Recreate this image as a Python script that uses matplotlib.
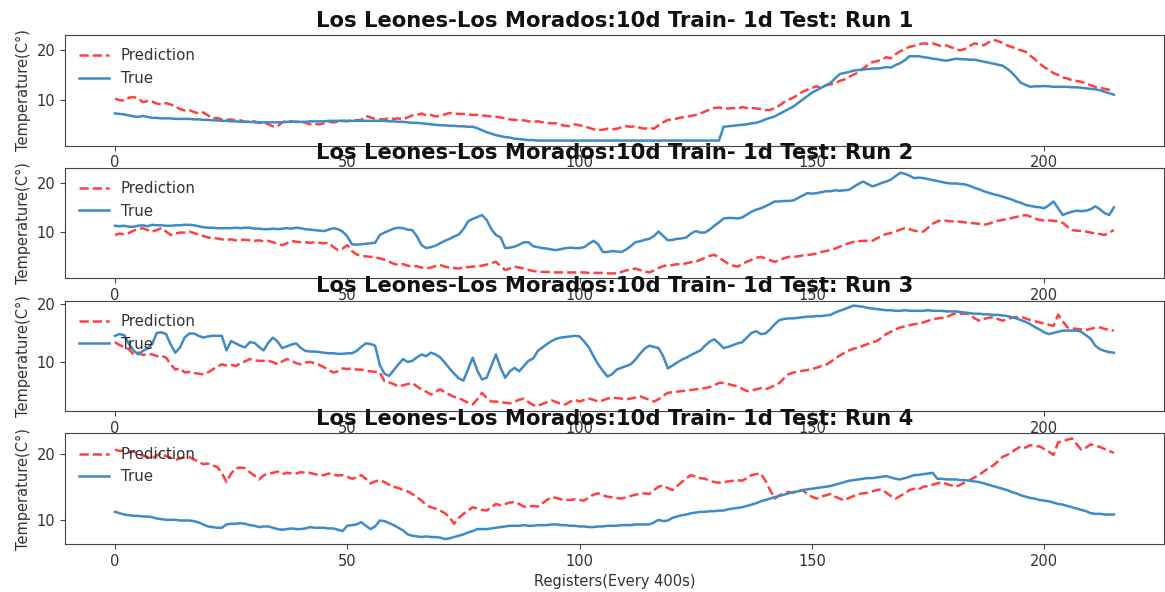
import matplotlib.pyplot as plt
import numpy as np

# Temperature runs, Los Leones - Los Morados (one value per register)
true_run1 = [
    7.2, 7.1, 7.0, 6.8, 6.6, 6.5, 6.7, 6.5, 6.3, 6.3, 6.2, 6.2,
    6.2, 6.1, 6.1, 6.1, 6.1, 6.0, 6.0, 5.9, 5.9, 5.8, 5.8, 5.7,
    5.7, 5.6, 5.6, 5.5, 5.5, 5.5, 5.4, 5.4, 5.4, 5.4, 5.4, 5.4,
    5.4, 5.5, 5.5, 5.5, 5.5, 5.5, 5.6, 5.6, 5.6, 5.6, 5.7, 5.7,
    5.7, 5.7, 5.7, 5.7, 5.7, 5.7, 5.7, 5.7, 5.7, 5.7, 5.7, 5.6,
    5.6, 5.5, 5.5, 5.4, 5.3, 5.3, 5.2, 5.1, 5.0, 4.9, 4.8, 4.8,
    4.7, 4.7, 4.6, 4.6, 4.5, 4.5, 4.2, 3.8, 3.4, 3.1, 2.8, 2.6,
    2.4, 2.3, 2.1, 2.0, 1.9, 1.8, 1.8, 1.7, 1.7, 1.7, 1.7, 1.7,
    1.7, 1.7, 1.7, 1.7, 1.7, 1.7, 1.7, 1.7, 1.7, 1.7, 1.7, 1.7,
    1.7, 1.7, 1.7, 1.7, 1.7, 1.7, 1.7, 1.7, 1.7, 1.7, 1.7, 1.7,
    1.7, 1.7, 1.7, 1.7, 1.7, 1.7, 1.7, 1.7, 1.7, 1.7, 1.7, 4.5,
    4.6, 4.7, 4.8, 4.9, 5.0, 5.2, 5.3, 5.6, 6.0, 6.3, 6.6, 7.1,
    7.6, 8.1, 8.6, 9.3, 10.0, 10.7, 11.4, 11.9, 12.4, 12.9, 13.4, 14.3,
    15.2, 15.4, 15.6, 15.9, 16.0, 16.1, 16.2, 16.3, 16.3, 16.4, 16.6, 16.5,
    17.0, 17.4, 18.0, 18.8, 18.8, 18.8, 18.6, 18.5, 18.3, 18.2, 18.0, 17.9,
    18.1, 18.3, 18.2, 18.2, 18.1, 18.1, 17.9, 17.7, 17.5, 17.3, 17.1, 16.9,
    16.3, 15.5, 14.5, 13.4, 13.0, 12.6, 12.7, 12.7, 12.75, 12.7, 12.6, 12.6,
    12.6, 12.6, 12.5, 12.5, 12.4, 12.3, 12.2, 12.1, 11.9, 11.6, 11.3, 11.0,
]
pred_run1 = [
    10.2, 9.9, 9.8, 10.4, 10.5, 10.3, 9.5, 9.7, 9.6, 9.2, 9.0, 9.3,
    9.0, 8.6, 8.1, 7.8, 7.9, 7.5, 7.2, 7.4, 6.8, 6.2, 6.3, 6.0,
    5.9, 6.0, 5.7, 5.8, 5.5, 5.5, 5.6, 5.3, 5.4, 5.0, 4.6, 4.6,
    5.4, 5.7, 5.6, 5.5, 5.5, 5.3, 5.0, 5.1, 5.0, 5.2, 5.5, 5.4,
    5.5, 5.7, 5.6, 5.9, 5.8, 5.9, 6.7, 6.4, 6.1, 6.0, 6.0, 6.3,
    6.1, 6.2, 6.0, 6.4, 6.8, 6.9, 7.2, 6.8, 6.9, 6.6, 6.7, 7.0,
    7.3, 7.2, 7.1, 7.1, 7.0, 6.9, 6.9, 6.8, 6.7, 6.6, 6.5, 6.4,
    6.2, 6.0, 5.9, 5.8, 5.8, 5.6, 5.5, 5.6, 5.4, 5.3, 5.2, 5.2,
    4.9, 4.7, 4.6, 5.0, 4.8, 4.6, 4.3, 4.0, 3.8, 3.9, 4.1, 4.0,
    4.1, 4.4, 4.6, 4.5, 4.6, 4.3, 4.1, 4.3, 4.1, 4.8, 5.4, 5.9,
    5.9, 6.2, 6.4, 6.6, 6.7, 6.9, 7.2, 7.6, 8.0, 8.3, 8.4, 8.2,
    8.2, 8.3, 8.1, 8.5, 8.3, 8.3, 8.2, 8.1, 7.9, 7.9, 8.3, 8.8,
    9.5, 10.0, 10.4, 11.0, 11.6, 12.0, 12.4, 12.7, 12.3, 12.9, 13.1, 13.3,
    13.8, 14.1, 14.6, 15.1, 15.5, 16.3, 17.0, 17.6, 17.8, 18.1, 18.6, 18.4,
    19.2, 19.8, 20.2, 20.7, 20.9, 21.2, 21.4, 21.3, 21.4, 21.1, 20.8, 21.0,
    20.6, 20.2, 20.0, 20.3, 20.9, 21.4, 21.2, 21.0, 21.6, 22.1, 21.9, 21.5,
    21.0, 20.7, 20.3, 20.0, 19.7, 18.9, 18.2, 17.3, 16.6, 16.0, 15.4, 15.0,
    14.5, 14.3, 13.9, 13.8, 13.6, 13.3, 12.9, 12.6, 12.4, 12.2, 12.0, 11.9,
]

true_run2 = [
    11.2, 11.1, 11.2, 11.0, 11.0, 11.2, 11.3, 11.1, 11.4, 11.3, 11.3, 11.2,
    11.2, 11.3, 11.3, 11.4, 11.4, 11.3, 11.1, 10.9, 10.8, 10.8, 10.7, 10.7,
    10.7, 10.7, 10.8, 10.7, 10.8, 10.8, 10.6, 10.6, 10.5, 10.5, 10.6, 10.5,
    10.6, 10.7, 10.6, 10.8, 10.7, 10.5, 10.4, 10.3, 10.2, 10.1, 10.4, 10.7,
    10.5, 10.0, 9.0, 7.4, 7.3, 7.4, 7.5, 7.6, 7.7, 9.3, 9.8, 10.2,
    10.6, 10.8, 10.7, 10.4, 10.3, 9.0, 7.2, 6.6, 6.8, 7.1, 7.6, 8.1,
    8.5, 9.0, 9.4, 10.5, 12.1, 12.6, 13.0, 13.4, 12.4, 10.5, 9.3, 8.8,
    6.6, 6.7, 6.9, 7.3, 7.8, 7.8, 7.0, 6.8, 6.6, 6.5, 6.3, 6.2,
    6.4, 6.6, 6.7, 6.6, 6.6, 6.8, 7.5, 8.1, 7.4, 5.8, 5.8, 6.0,
    5.9, 5.8, 6.3, 7.0, 7.8, 8.0, 8.3, 8.5, 9.1, 10.0, 9.1, 8.2,
    8.3, 8.5, 8.6, 8.8, 9.6, 10.1, 9.8, 9.8, 10.4, 11.2, 11.9, 12.7,
    12.8, 12.8, 12.7, 12.9, 13.5, 14.1, 14.5, 14.8, 15.2, 15.7, 16.2, 16.2,
    16.3, 16.3, 16.4, 16.9, 17.4, 17.9, 17.8, 17.9, 18.1, 18.3, 18.3, 18.5,
    18.4, 18.5, 18.6, 19.2, 19.8, 20.3, 19.8, 19.3, 19.6, 20.0, 20.3, 20.7,
    21.4, 22.1, 21.9, 21.5, 21.0, 21.1, 21.0, 20.8, 20.6, 20.4, 20.2, 20.0,
    19.9, 19.9, 19.8, 19.7, 19.4, 19.0, 18.7, 18.3, 18.0, 17.7, 17.5, 17.2,
    16.9, 16.6, 16.2, 15.9, 15.5, 15.3, 15.1, 15.0, 14.8, 15.4, 16.2, 14.8,
    13.4, 13.8, 14.1, 14.3, 14.2, 14.3, 14.6, 15.2, 14.6, 13.8, 13.4, 15.0,
]
pred_run2 = [
    9.3, 9.6, 9.4, 9.7, 10.2, 10.5, 10.7, 10.3, 10.0, 10.3, 10.7, 10.0,
    9.3, 9.6, 9.8, 9.8, 10.0, 9.7, 9.4, 9.1, 8.8, 8.7, 8.6, 8.4,
    8.3, 8.4, 8.2, 8.3, 8.3, 8.2, 8.1, 8.2, 8.0, 8.1, 7.8, 7.5,
    7.2, 7.6, 8.1, 7.9, 7.8, 7.8, 7.7, 7.8, 7.7, 7.6, 7.7, 6.8,
    6.2, 6.5, 7.2, 6.0, 5.3, 5.0, 4.9, 4.8, 4.7, 4.5, 4.2, 3.8,
    3.4, 3.1, 3.3, 3.0, 2.8, 2.9, 2.6, 2.4, 2.6, 2.9, 3.1, 2.8,
    2.6, 2.5, 2.4, 2.6, 2.7, 2.8, 2.8, 3.0, 3.2, 3.5, 3.8, 2.9,
    2.1, 2.4, 2.8, 2.6, 2.4, 2.1, 1.9, 1.8, 1.7, 1.7, 1.6, 1.6,
    1.6, 1.6, 1.6, 1.6, 1.6, 1.6, 1.5, 1.5, 1.5, 1.5, 1.4, 1.4,
    1.4, 1.7, 2.0, 2.2, 2.4, 2.1, 1.8, 1.6, 2.0, 2.5, 2.9, 3.1,
    3.1, 3.3, 3.2, 3.5, 3.7, 3.8, 4.2, 4.6, 5.0, 5.2, 4.7, 4.0,
    3.4, 3.0, 2.8, 3.3, 3.8, 4.2, 4.6, 4.8, 4.5, 4.1, 3.8, 4.1,
    4.5, 4.8, 4.8, 4.9, 5.1, 5.2, 5.3, 5.5, 5.8, 6.0, 6.2, 6.5,
    6.9, 7.3, 7.6, 7.9, 8.0, 8.1, 8.1, 8.1, 8.6, 9.1, 9.5, 9.7,
    10.0, 10.4, 10.7, 10.5, 10.2, 10.0, 10.0, 10.8, 11.6, 12.1, 12.4, 12.2,
    12.1, 12.1, 12.0, 11.9, 11.8, 11.7, 11.6, 11.4, 11.6, 11.9, 12.2, 12.4,
    12.6, 12.8, 13.0, 13.2, 13.4, 13.1, 12.7, 12.4, 12.3, 12.3, 12.2, 12.1,
    11.8, 11.0, 10.3, 10.2, 10.1, 10.0, 9.8, 9.6, 9.5, 9.3, 9.8, 10.3,
]

true_run3 = [
    14.5, 14.8, 14.6, 13.1, 12.0, 11.3, 11.9, 12.3, 13.1, 15.0, 15.1, 14.8,
    13.0, 11.6, 12.5, 14.2, 14.9, 14.9, 14.5, 14.2, 14.4, 14.5, 14.5, 14.5,
    12.0, 13.6, 13.2, 12.8, 12.5, 13.4, 13.3, 12.6, 12.0, 13.3, 14.2, 13.5,
    12.4, 12.7, 13.0, 13.2, 12.4, 11.9, 11.8, 11.8, 11.7, 11.6, 11.5, 11.5,
    11.4, 11.4, 11.5, 11.5, 11.9, 12.6, 13.2, 13.1, 12.8, 9.5, 8.0, 7.6,
    8.6, 9.6, 10.5, 10.0, 10.2, 10.8, 11.3, 11.0, 11.6, 11.3, 10.8, 9.9,
    8.9, 8.0, 7.2, 6.8, 8.8, 10.75, 8.5, 7.0, 7.3, 9.3, 11.3, 9.0,
    7.3, 8.4, 9.0, 8.4, 9.3, 10.2, 10.6, 11.9, 12.5, 13.1, 13.6, 14.0,
    14.2, 14.3, 14.4, 14.5, 14.4, 13.5, 12.5, 11.0, 9.6, 8.5, 7.5, 7.9,
    8.7, 9.0, 9.3, 9.6, 10.4, 11.4, 12.3, 12.8, 12.6, 12.4, 11.0, 8.9,
    9.4, 9.9, 10.4, 10.75, 11.2, 11.6, 12.0, 12.8, 13.5, 13.9, 13.2, 12.4,
    12.6, 12.9, 13.2, 13.4, 14.2, 15.0, 15.3, 14.8, 14.9, 15.6, 16.5, 17.2,
    17.4, 17.5, 17.5, 17.6, 17.7, 17.8, 17.8, 17.9, 17.9, 18.0, 18.1, 18.5,
    18.8, 19.1, 19.4, 19.7, 19.6, 19.5, 19.3, 19.2, 19.1, 19.0, 18.9, 18.9,
    18.8, 18.8, 18.9, 18.8, 18.8, 18.8, 18.8, 18.9, 18.8, 18.8, 18.8, 18.7,
    18.7, 18.7, 18.6, 18.5, 18.4, 18.3, 18.3, 18.2, 18.2, 18.1, 18.1, 18.0,
    17.9, 17.7, 17.5, 17.2, 16.9, 16.5, 16.0, 15.6, 15.1, 14.8, 15.0, 15.2,
    15.4, 15.4, 15.4, 15.4, 15.2, 14.6, 14.0, 12.8, 12.2, 11.9, 11.7, 11.6,
]
pred_run3 = [
    13.4, 12.9, 12.6, 12.2, 11.3, 11.6, 11.2, 11.4, 11.3, 11.0, 11.1, 10.75,
    9.6, 8.7, 8.9, 8.2, 8.3, 8.1, 8.0, 7.9, 8.2, 8.7, 9.2, 9.6,
    9.4, 9.5, 9.3, 9.8, 10.1, 10.5, 10.3, 10.2, 10.2, 10.2, 10.0, 9.6,
    10.1, 10.5, 10.2, 9.8, 9.6, 9.9, 10.0, 9.8, 9.5, 9.1, 8.6, 8.2,
    8.4, 8.9, 8.8, 8.9, 8.7, 8.7, 8.5, 8.4, 8.3, 8.2, 6.7, 6.5,
    6.2, 5.8, 6.0, 6.2, 6.4, 5.8, 5.3, 4.9, 4.4, 4.9, 5.3, 4.8,
    4.4, 4.0, 3.8, 3.4, 3.0, 2.7, 3.6, 4.7, 3.8, 3.2, 3.2, 3.1,
    3.0, 2.9, 3.2, 3.5, 3.7, 3.1, 2.6, 2.4, 2.8, 3.1, 3.4, 3.1,
    2.8, 2.7, 3.2, 3.5, 3.2, 3.5, 3.7, 3.5, 3.2, 3.4, 3.7, 3.9,
    3.8, 3.7, 3.6, 3.7, 3.9, 4.1, 3.8, 3.5, 3.2, 3.6, 4.2, 4.7,
    4.8, 4.9, 5.0, 5.1, 5.2, 5.3, 5.4, 5.5, 5.7, 6.0, 6.4, 6.4,
    6.2, 6.0, 5.8, 5.4, 5.0, 5.1, 5.3, 5.5, 5.3, 5.6, 6.0, 6.4,
    7.2, 7.9, 8.2, 8.3, 8.5, 8.6, 8.8, 9.0, 9.3, 9.5, 10.0, 10.6,
    11.1, 11.6, 12.0, 12.3, 12.5, 12.8, 13.1, 13.4, 13.6, 14.2, 14.8, 15.2,
    15.6, 15.95, 16.1, 16.3, 16.5, 16.6, 16.8, 17.1, 17.3, 17.5, 17.6, 17.7,
    18.1, 18.4, 18.3, 18.3, 18.2, 17.5, 17.1, 17.4, 17.6, 17.7, 17.4, 17.1,
    17.3, 17.6, 17.7, 17.8, 17.5, 17.2, 17.0, 16.8, 16.6, 16.4, 16.2, 18.15,
    17.0, 15.95, 15.8, 15.7, 15.6, 15.5, 15.7, 15.9, 15.95, 15.7, 15.5, 15.4,
]

true_run4 = [
    11.3, 11.1, 10.9, 10.8, 10.7, 10.7, 10.6, 10.6, 10.5, 10.3, 10.2, 10.1,
    10.1, 10.1, 10.0, 10.0, 10.0, 9.9, 9.7, 9.4, 9.1, 9.0, 8.9, 8.9,
    9.4, 9.5, 9.5, 9.6, 9.5, 9.3, 9.2, 9.0, 9.1, 9.1, 8.9, 8.7,
    8.6, 8.7, 8.8, 8.7, 8.7, 8.8, 9.0, 8.9, 8.9, 8.9, 8.8, 8.8,
    8.6, 8.4, 9.2, 9.3, 9.4, 9.75, 9.2, 8.7, 9.1, 10.0, 9.9, 9.6,
    9.3, 8.9, 8.5, 7.9, 7.7, 7.6, 7.5, 7.6, 7.5, 7.5, 7.4, 7.2,
    7.3, 7.5, 7.7, 7.9, 8.2, 8.4, 8.7, 8.7, 8.7, 8.8, 8.9, 9.0,
    9.1, 9.2, 9.2, 9.2, 9.3, 9.2, 9.2, 9.3, 9.3, 9.3, 9.4, 9.4,
    9.3, 9.3, 9.2, 9.2, 9.1, 9.1, 9.0, 9.0, 9.1, 9.1, 9.2, 9.2,
    9.2, 9.3, 9.3, 9.3, 9.4, 9.4, 9.4, 9.4, 9.7, 10.1, 9.9, 10.0,
    10.4, 10.6, 10.8, 10.9, 11.1, 11.2, 11.3, 11.3, 11.4, 11.4, 11.5, 11.5,
    11.7, 11.8, 11.9, 12.0, 12.2, 12.4, 12.6, 12.9, 13.1, 13.3, 13.55, 13.7,
    13.9, 14.1, 14.3, 14.4, 14.6, 14.7, 14.8, 14.9, 15.0, 15.1, 15.2, 15.4,
    15.6, 15.8, 16.0, 16.1, 16.2, 16.3, 16.4, 16.4, 16.5, 16.6, 16.7, 16.5,
    16.3, 16.2, 16.4, 16.6, 16.85, 16.9, 17.0, 17.1, 17.2, 16.3, 16.3, 16.2,
    16.2, 16.2, 16.1, 16.1, 16.0, 15.9, 15.8, 15.6, 15.4, 15.2, 15.0, 14.8,
    14.6, 14.3, 14.1, 13.8, 13.6, 13.4, 13.3, 13.1, 13.0, 12.9, 12.7, 12.5,
    12.4, 12.2, 12.0, 11.8, 11.6, 11.4, 11.1, 11.0, 11.0, 10.9, 10.9, 10.9,
]
pred_run4 = [
    20.7, 20.5, 20.6, 20.3, 20.4, 20.1, 19.8, 19.6, 19.4, 19.8, 20.2, 19.7,
    19.5, 19.1, 19.4, 19.5, 19.6, 19.2, 18.9, 18.5, 18.6, 18.3, 18.1, 17.2,
    15.8, 17.1, 17.9, 18.0, 17.9, 17.3, 16.8, 16.2, 16.8, 17.1, 17.2, 17.4,
    17.0, 17.2, 17.1, 17.1, 17.3, 17.2, 17.2, 17.0, 16.9, 16.85, 17.1, 16.9,
    16.8, 16.85, 16.6, 16.3, 16.5, 16.85, 16.3, 15.6, 15.9, 16.1, 15.8, 15.4,
    15.1, 14.9, 14.6, 14.4, 14.0, 13.5, 13.0, 12.3, 12.0, 11.8, 11.5, 11.1,
    10.5, 9.5, 10.4, 11.0, 11.5, 12.0, 11.8, 11.6, 11.5, 12.0, 12.5, 12.3,
    12.5, 12.7, 12.8, 12.5, 12.1, 12.1, 12.2, 12.1, 12.6, 13.1, 13.55, 13.4,
    13.2, 13.1, 13.1, 13.2, 13.1, 13.0, 13.5, 13.9, 14.1, 13.8, 13.6, 13.5,
    13.4, 13.3, 13.5, 13.7, 13.9, 14.0, 14.1, 14.0, 14.6, 15.1, 15.3, 14.9,
    14.6, 15.2, 15.8, 16.4, 16.85, 16.6, 16.4, 16.3, 16.0, 15.8, 15.7, 15.8,
    15.9, 16.0, 16.1, 16.0, 16.4, 16.85, 17.0, 17.1, 16.0, 14.6, 13.3, 13.8,
    14.1, 14.3, 14.2, 14.4, 14.6, 14.0, 13.6, 13.3, 13.6, 13.8, 14.0, 13.6,
    13.3, 13.05, 13.4, 13.7, 14.0, 14.1, 14.2, 14.4, 14.6, 14.7, 14.2, 13.7,
    13.3, 13.7, 14.1, 14.6, 14.8, 14.7, 15.1, 15.2, 15.4, 15.6, 15.8, 15.5,
    15.3, 15.1, 15.4, 15.8, 16.1, 16.5, 16.9, 17.4, 17.9, 18.3, 18.9, 19.6,
    19.9, 20.3, 20.8, 21.2, 21.0, 21.4, 21.2, 21.2, 20.8, 20.4, 19.9, 21.8,
    22.0, 22.2, 22.4, 21.5, 20.7, 21.0, 21.5, 21.3, 21.1, 20.8, 20.5, 20.2,
]

runs = [
    (pred_run1, true_run1),
    (pred_run2, true_run2),
    (pred_run3, true_run3),
    (pred_run4, true_run4),
]

fig, axes = plt.subplots(4, 1, figsize=(11.65, 5.92), dpi=100)
fig.subplots_adjust(left=0.0558, right=0.999, top=0.941, bottom=0.081, hspace=0.2)

for i, (pred, true) in enumerate(runs):
    ax = axes[i]
    ax.plot(np.arange(len(pred)), pred, 'r--', alpha=0.75, linewidth=1.8, label='Prediction')
    ax.plot(np.arange(len(true)), true, color='#3f8bc6', linewidth=1.8, label='True')
    ax.set_title('Los Leones-Los Morados:10d Train- 1d Test: Run %d' % (i + 1),
                 fontsize=15.2, fontweight='bold', color='#111111')
    ax.set_ylabel('Temperature(C°)', fontsize=10.5, color='#333333')
    ax.set_yticks([10, 20])
    ax.tick_params(labelsize=10.5, labelcolor='#333333', color='#444444')
    for sp in ax.spines.values():
        sp.set_color('#444444')
    ax.legend(loc='upper left', frameon=False, fontsize=10.8, labelcolor='#333333')

axes[-1].set_xlabel('Registers(Every 400s)', fontsize=10.5, color='#333333')

plt.savefig('out.png', dpi=100)
